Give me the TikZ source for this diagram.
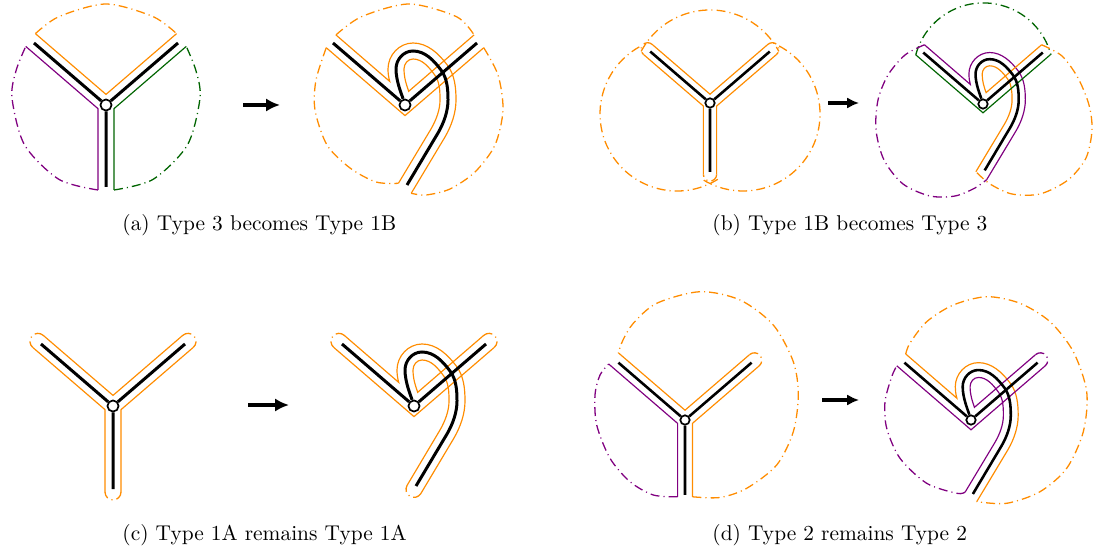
\documentclass[tikz,border=0pt]{standalone}
\usetikzlibrary{arrows.meta}
\definecolor{orng}{RGB}{255,140,0}
\definecolor{purp}{RGB}{128,0,128}
\definecolor{grn}{RGB}{0,100,0}
% black curved arm (local coordinates, starts at the vertex)
\newcommand{\curvK}{.. controls (-3.6,-11.4) and (-9,-24) .. (-9,-36) .. controls (-9,-45.5) and (-1.5,-54) .. (8,-54) .. controls (20,-54) and (28.8,-44.6) .. (36,-35) .. controls (42.3,-26.6) and (43,-15.5) .. (43,-5) .. controls (43,6.5) and (38.75,18) .. (33,28) -- (2,80)}
% outer offset, starts at (-15.3,-23.6)
\newcommand{\curvO}{.. controls (-16.5,-28) and (-17,-32) .. (-17,-36) .. controls (-17,-49.8) and (-5.8,-62) .. (8,-62) .. controls (22.5,-62) and (33.7,-51.4) .. (42.4,-39.8) .. controls (49.8,-30) and (51,-17.3) .. (51,-5) .. controls (51,7.9) and (46.45,20.8) .. (40,32)}
% inner offset, starts at (3.7,-13.7)
\newcommand{\curvI}{.. controls (1.5,-20) and (-1,-27) .. (-1,-36) .. controls (-1,-41.2) and (2.8,-46) .. (8,-46) .. controls (17.4,-46) and (24,-37.7) .. (29.6,-30.2) .. controls (34.8,-23.2) and (35,-13.7) .. (35,-5) .. controls (35,5.1) and (31.05,15.2) .. (26,24)}
\tikzset{
 arm/.style={line width=1.4pt, black},
 armb/.style={line width=1.2pt, black},
 bd/.style={line width=0.55pt},
 ddash/.style={line width=0.6pt, dash pattern=on 4.2pt off 1.9pt on 0.5pt off 1.9pt},
 vtx/.style={circle, draw, fill=white, line width=0.8pt, inner sep=0pt, minimum size=5.2pt},
 vtxb/.style={vtx, minimum size=4.4pt},
 mv/.style={line width=1.8pt, -{Latex[length=6.5pt,width=6.2pt]}},
 mvb/.style={line width=1.5pt, -{Latex[length=5.5pt,width=5.2pt]}},
 captxt/.style={anchor=base west, inner sep=0pt}
}
\begin{document}
\begin{tikzpicture}[x=0.4673pt,y=-0.4673pt]
\useasboundingbox (0,0) rectangle (1097,546);

% ================= (a) left =================
\begin{scope}[shift={(106,105)}]
 \node[vtx] (va) at (0,0) {};
 \coordinate (a1) at (-72,-62); \coordinate (a2) at (72,-62); \coordinate (a3) at (0,82);
 \coordinate (aLU) at (-70.58,-71.36); \coordinate (aRU) at (70.58,-71.36);
 \coordinate (aLL) at (-80.26,-58.59); \coordinate (aRL) at (80.26,-58.59);
 \coordinate (aLd) at (-8,85); \coordinate (aRd) at (8,85);
 \draw[bd,orng] (aLU) -- (0,-10.6) -- (aRU);
 \draw[bd,purp] (aLL) -- (-8,3.66) -- (aLd);
 \draw[bd,grn] (aRL) -- (8,3.66) -- (aRd);
 \draw[arm] (va) -- (a1) (va) -- (a2) (va) -- (a3);
\end{scope}
\draw[ddash,orng] plot[smooth] coordinates {(aLU) (59,16.6) (106,4) (153,16.6) (aRU)};
\draw[ddash,purp] plot[smooth] coordinates {(aLd) (59,179.4) (24.6,145) (12,98) (16.1,70.5) (aLL)};
\draw[ddash,grn] plot[smooth] coordinates {(aRd) (153,179.4) (187.4,145) (200,98) (195.9,70.5) (aRL)};

% ================= (a) right =================
\begin{scope}[shift={(405,105)}]
 \node[vtx] (vb) at (0,0) {};
 \coordinate (b1) at (-72,-62); \coordinate (b2) at (72,-62);
 \coordinate (bLU) at (-69.06,-70.05); \coordinate (bRU) at (69.06,-70.05);
 \coordinate (bLL) at (-78.75,-57.28); \coordinate (bRL) at (78.75,-57.28);
 \coordinate (bEo) at (6.2,88.3); \coordinate (bEi) at (-6.6,78.3);
 \draw[bd,orng] (bLU) -- (-15.3,-23.6) \curvO -- (bEo);
 \draw[bd,orng] (bRU) -- (3.7,-13.7) \curvI -- (bEi);
 \draw[bd,orng] (bLL) -- (0,10.6) -- (bRL);
 \draw[arm] (vb) -- (b1) (vb) -- (b2);
 \draw[arm] (vb) \curvK;
\end{scope}
\draw[ddash,orng] plot[smooth] coordinates {(bLU) (361.5,16.7) (409,4) (456.5,16.7) (bRU)};
\draw[ddash,orng] plot[smooth] coordinates {(bLL) (316,80) (315,110) (327,145) (350,168) (376,182) (bEi)};
\draw[ddash,orng] plot[smooth] coordinates {(bRL) (498,75) (503,110) (495,145) (475,172) (450,189) (426,195) (bEo)};

% ================= (b) left =================
\begin{scope}[shift={(710,103)},scale=0.83]
 \node[vtxb] (vc) at (0,0) {};
 \coordinate (c1) at (-72,-62); \coordinate (c2) at (72,-62); \coordinate (c3) at (0,83);
 \coordinate (cLU) at (-69.82,-70.71); \coordinate (cRU) at (69.82,-70.71);
 \coordinate (cLL) at (-80.26,-58.59); \coordinate (cRL) at (80.26,-58.59);
 \coordinate (cLd) at (-8,86); \coordinate (cRd) at (8,86);
 \draw[bd,orng] (cLU) -- (0,-10.6) -- (cRU);
 \draw[bd,orng] (cRL) -- (8,3.66) -- (cRd);
 \draw[bd,orng] (cLd) -- (-8,3.66) -- (cLL);
 \draw[ddash,orng] (cLU) arc[start angle=-49.3, delta angle=-180, radius=8];
 \draw[ddash,orng] (cRU) arc[start angle=-130.7, delta angle=180, radius=8];
 \draw[ddash,orng] (cRd) arc[start angle=0, delta angle=180, radius=8];
 \draw[armb] (vc) -- (c1) (vc) -- (c2) (vc) -- (c3);
\end{scope}
\draw[ddash,orng] (710,88) ++(-152:78) arc[start angle=-152, end angle=-28, radius=78];
\draw[ddash,orng] (677,114) ++(58:77) arc[start angle=58, end angle=242, radius=77];
\draw[ddash,orng] (743,114) ++(-62:77) arc[start angle=-62, end angle=122, radius=77];

% ================= (b) right =================
\begin{scope}[shift={(983,104)},scale=0.83]
 \node[vtxb] (vd) at (0,0) {};
 \coordinate (d1) at (-72,-62); \coordinate (d2) at (72,-62);
 \coordinate (dLU) at (-70.58,-71.36); \coordinate (dRU) at (70.58,-71.36);
 \coordinate (dLL) at (-81.02,-59.24); \coordinate (dRL) at (81.02,-59.24);
 \coordinate (dEo) at (4.47,91.1); \coordinate (dEi) at (-8.6,81.6);
 \draw[bd,purp] (dLU) -- (-15.3,-23.6) \curvO -- (dEo);
 \draw[bd,orng] (dRU) -- (3.7,-13.7) \curvI -- (dEi);
 \draw[bd,grn] (dLL) -- (0,10.6) -- (dRL);
 \draw[armb] (vd) -- (d1) (vd) -- (d2);
 \draw[armb] (vd) \curvK;
\end{scope}
\draw[ddash,grn] (dLL) arc[start angle=-165, end angle=-15, radius=70];
\draw[ddash,purp] plot[smooth] coordinates {(dLU) (905,55) (888,75) (878,100) (876,130) (884,160) (903,184) (930,196) (955,196) (975,188) (dEo)};
\draw[ddash,orng] plot[smooth] coordinates {(dRU) (1062,56) (1078,78) (1089,105) (1092,130) (1086,158) (1068,180) (1040,194) (1012,194) (990,184) (dEi)};

% ================= (c) left =================
\begin{scope}[shift={(113,406)}]
 \node[vtx] (ve) at (0,0) {};
 \coordinate (e1) at (-72,-62); \coordinate (e2) at (72,-62); \coordinate (e3) at (0,83);
 \coordinate (eLU) at (-69.82,-70.71); \coordinate (eRU) at (69.82,-70.71);
 \coordinate (eLL) at (-80.26,-58.59); \coordinate (eRL) at (80.26,-58.59);
 \coordinate (eLd) at (-8,86); \coordinate (eRd) at (8,86);
 \draw[bd,orng] (eLU) -- (0,-10.6) -- (eRU);
 \draw[bd,orng] (eRL) -- (8,3.66) -- (eRd);
 \draw[bd,orng] (eLd) -- (-8,3.66) -- (eLL);
 \draw[ddash,orng] (eLU) arc[start angle=-49.3, delta angle=-180, radius=8];
 \draw[ddash,orng] (eRU) arc[start angle=-130.7, delta angle=180, radius=8];
 \draw[ddash,orng] (eRd) arc[start angle=0, delta angle=180, radius=8];
 \draw[arm] (ve) -- (e1) (ve) -- (e2) (ve) -- (e3);
\end{scope}

% ================= (c) right =================
\begin{scope}[shift={(414,406)}]
 \node[vtx] (vf) at (0,0) {};
 \coordinate (f1) at (-72,-62); \coordinate (f2) at (72,-62);
 \coordinate (fLU) at (-69.82,-70.71); \coordinate (fRU) at (69.82,-70.71);
 \coordinate (fLL) at (-80.26,-58.59); \coordinate (fRL) at (80.26,-58.59);
 \coordinate (fEo) at (6.86,87.52); \coordinate (fEi) at (-6.86,79.28);
 \draw[bd,orng] (fLU) -- (-15.3,-23.6) \curvO -- (fEo);
 \draw[bd,orng] (fRU) -- (3.7,-13.7) \curvI -- (fEi);
 \draw[bd,orng] (fLL) -- (0,10.6) -- (fRL);
 \draw[ddash,orng] (fLU) arc[start angle=-49.3, delta angle=-180, radius=8];
 \draw[ddash,orng] (fRU) arc[start angle=-130.7, delta angle=180, radius=8];
 \draw[ddash,orng] (fEo) arc[start angle=31, delta angle=180, radius=8];
 \draw[arm] (vf) -- (f1) (vf) -- (f2);
 \draw[arm] (vf) \curvK;
\end{scope}

% ================= (d) left =================
\begin{scope}[shift={(685,420)},scale=0.925]
 \node[vtxb] (vg) at (0,0) {};
 \coordinate (g1) at (-72,-62); \coordinate (g2) at (72,-62); \coordinate (g3) at (0,81);
 \coordinate (gLU) at (-72.1,-72.67); \coordinate (gRU) at (69.82,-70.71);
 \coordinate (gLL) at (-82.54,-60.55); \coordinate (gRL) at (80.26,-58.59);
 \coordinate (gLd) at (-8,83); \coordinate (gRd) at (8,83);
 \draw[bd,orng] (gLU) -- (0,-10.6) -- (gRU);
 \draw[ddash,orng] (gRU) arc[start angle=-130.7, delta angle=180, radius=8];
 \draw[bd,orng] (gRL) -- (8,3.66) -- (gRd);
 \draw[bd,purp] (gLL) -- (-8,3.66) -- (gLd);
 \draw[armb] (vg) -- (g1) (vg) -- (g2) (vg) -- (g3);
\end{scope}
\draw[ddash,orng] plot[smooth] coordinates {(gRd) (720,497.5) (746.7,488.3) (776.7,465) (793.3,431.7) (798.3,395) (793.3,361.7) (773.3,325) (740,300) (700,291.7) (656.7,303.3) (633.3,323.3) (623,340) (gLU)};
\draw[ddash,purp] plot[smooth] coordinates {(gLd) (653.3,495) (630,481.7) (610,458.3) (596.7,425) (595,395) (600,375) (gLL)};

% ================= (d) right =================
\begin{scope}[shift={(971,420)},scale=0.925]
 \node[vtxb] (vh) at (0,0) {};
 \coordinate (h1) at (-72,-62); \coordinate (h2) at (72,-62);
 \coordinate (hLU) at (-70.58,-71.36); \coordinate (hRU) at (69.82,-70.71);
 \coordinate (hLL) at (-80.26,-58.59); \coordinate (hRL) at (80.26,-58.59);
 \coordinate (hEo) at (6.2,88.3); \coordinate (hEi) at (-6.4,78);
 \draw[bd,orng] (hLU) -- (-15.3,-23.6) \curvO -- (hEo);
 \draw[bd,purp] (hRU) -- (3.7,-13.7) \curvI -- (hEi);
 \draw[bd,purp] (hLL) -- (0,10.6) -- (hRL);
 \draw[ddash,purp] (hRU) arc[start angle=-130.7, delta angle=180, radius=8];
 \draw[armb] (vh) -- (h1) (vh) -- (h2);
 \draw[armb] (vh) \curvK;
\end{scope}
\draw[ddash,orng] plot[smooth] coordinates {(hLU) (910,343) (926.7,321.7) (953.3,305) (986.7,296.7) (1020,303.3) (1050,321.7) (1073.3,351.7) (1086.7,391.7) (1083.3,431.7) (1066.7,468.3) (1040,491.7) (1006.7,503.3) (hEo)};
\draw[ddash,purp] plot[smooth] coordinates {(hEi) (956.7,493.3) (926.7,483.3) (900,458.3) (886.7,428.3) (885,401.7) (891.7,376.7) (hLL)};

% ================= arrows =================
\coordinate (pa1) at (243,105); \coordinate (pa2) at (280,105);
\draw[mv] (pa1) -- (pa2);
\coordinate (pb1) at (828,103); \coordinate (pb2) at (859,103);
\draw[mvb] (pb1) -- (pb2);
\coordinate (pc1) at (248,405); \coordinate (pc2) at (289,405);
\draw[mv] (pc1) -- (pc2);
\coordinate (pd1) at (822,400); \coordinate (pd2) at (859,400);
\draw[mvb] (pd1) -- (pd2);

% ================= captions =================
\node[captxt] (ta) at (122,230.5) {(a) Type 3 becomes Type 1B};
\node[captxt] (tb) at (712,230.5) {(b) Type 1B becomes Type 3};
\node[captxt] (tc) at (122,540.5) {(c) Type 1A remains Type 1A};
\node[captxt] (td) at (712,540.5) {(d) Type 2 remains Type 2};
\end{tikzpicture}
\end{document}
